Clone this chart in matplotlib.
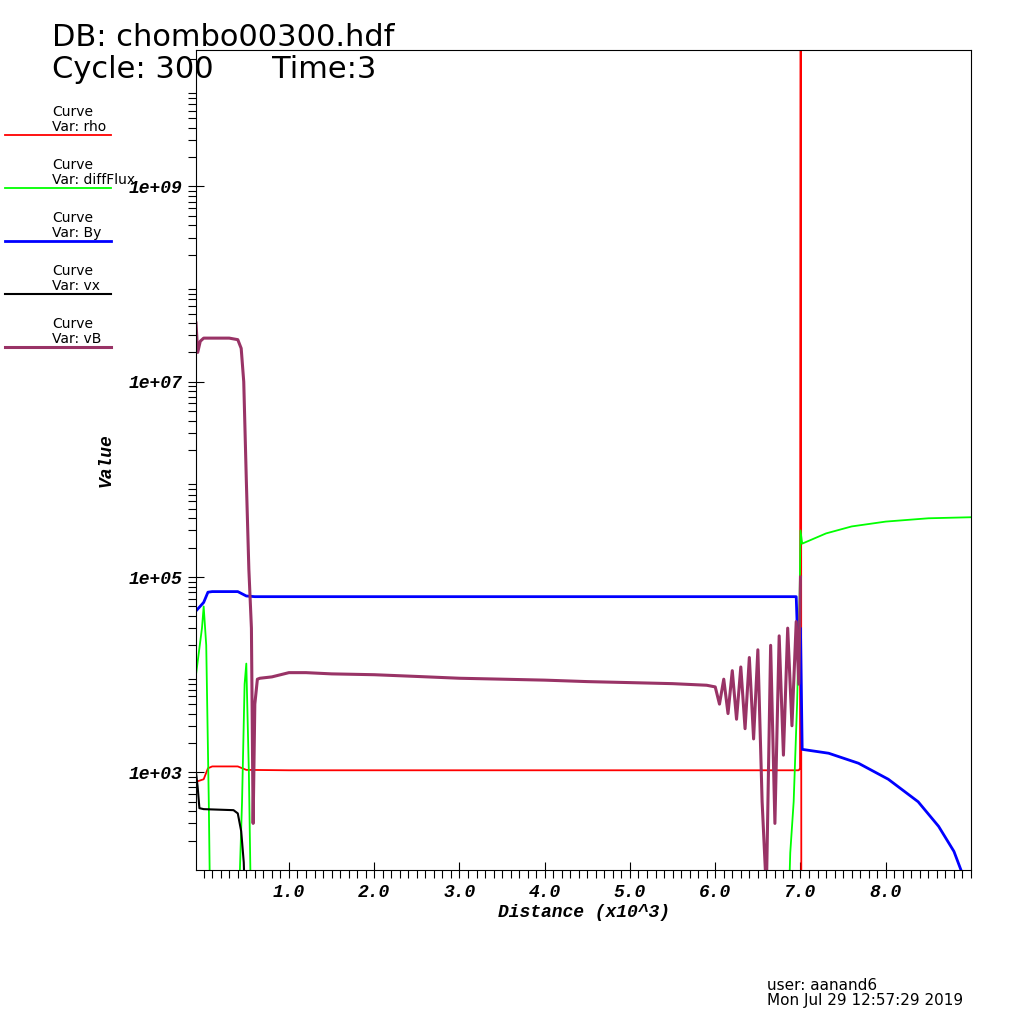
import matplotlib
matplotlib.use("Agg")
import matplotlib.pyplot as plt
from matplotlib.ticker import LogLocator, MultipleLocator, NullFormatter

rho_x = [-0.09, 0.0, 0.05, 0.1, 0.4, 0.5, 1.0, 3.0, 5.0, 6.98, 6.995, 7.0, 7.005, 7.01]
rho_y = [800, 850, 1100, 1150, 1150, 1060, 1050, 1050, 1050, 1050, 1100, 1e11, 1e11, 10]

df_x = [-0.09, -0.02, 0.0, 0.03, 0.06, 0.08, 0.40, 0.45, 0.48, 0.50, 0.53, 0.56, 6.85, 6.88, 6.92, 6.96, 6.99, 7.0, 7.02, 7.3, 7.6, 8.0, 8.5, 9.0]
df_y = [1e4, 3e4, 5e4, 2e4, 500, 20, 20, 500, 8000, 13000, 1000, 20, 20, 150, 500, 5000, 6e4, 3e5, 2.2e5, 2.8e5, 3.3e5, 3.7e5, 4.0e5, 4.1e5]

by_x = [-0.09, 0.0, 0.05, 0.1, 0.4, 0.5, 0.6, 3.0, 6.95, 6.98, 7.0, 7.02, 7.33, 7.68, 8.03, 8.38, 8.62, 8.80, 8.89]
by_y = [4.5e4, 5.5e4, 7e4, 7.1e4, 7.1e4, 6.4e4, 6.3e4, 6.3e4, 6.3e4, 1e4, 3e4, 1720, 1570, 1240, 850, 500, 280, 155, 96]

vx_x = [-0.09, -0.07, -0.05, 0.0, 0.35, 0.40, 0.44, 0.47, 0.50]
vx_y = [1000, 700, 430, 420, 410, 380, 250, 120, 20]

vb_x = [-0.09, -0.07, -0.04, 0.0, 0.1, 0.3, 0.40, 0.44, 0.47, 0.50, 0.53, 0.56, 0.58, 0.60, 0.63, 0.66, 0.8, 1.0, 1.2, 1.5, 2.0, 2.5, 3.0, 3.5, 4.0, 4.5, 5.0, 5.5, 5.9,
        6.0, 6.05, 6.1, 6.15, 6.2, 6.25, 6.3, 6.35, 6.4, 6.45, 6.5, 6.55, 6.6, 6.65, 6.7, 6.75, 6.8, 6.85, 6.9, 6.95, 6.98, 7.0]
vb_y = [4e7, 2e7, 2.6e7, 2.8e7, 2.8e7, 2.8e7, 2.7e7, 2.2e7, 1e7, 1e6, 1.2e5, 3e4, 300, 5000, 9000, 9200, 9500, 1.05e4, 1.05e4, 1.02e4, 1.0e4, 9600, 9200, 9000, 8800, 8500, 8300, 8100, 7800,
        7500, 5000, 9000, 4000, 11000, 3500, 12000, 2800, 15000, 2200, 18000, 500, 60, 20000, 300, 25000, 1500, 30000, 3000, 35000, 8000, 1e5]

series = [("rho", rho_x, rho_y, "#ff0000", 1.3),
          ("diffFlux", df_x, df_y, "#00ff00", 1.3),
          ("By", by_x, by_y, "#0000ff", 2.0),
          ("vx", vx_x, vx_y, "#000000", 1.5),
          ("vB", vb_x, vb_y, "#993366", 2.2)]

fig = plt.figure(figsize=(10.24, 10.24), dpi=100)
ax = fig.add_axes([196/1024, 154/1024, 775/1024, 820/1024])
for name, x, y, c, lw in series:
    ax.plot(x, y, color=c, lw=lw)
ax.set_yscale("log")
ax.set_xlim(-0.09, 9.0)
ax.set_ylim(100, 2.5e10)
mono = dict(family=["Liberation Mono", "DejaVu Sans Mono"], weight="bold", style="italic", size=13)
ax.set_yticks([1e3, 1e5, 1e7, 1e9])
ax.set_yticklabels(["1e+03", "1e+05", "1e+07", "1e+09"], **mono)
ax.yaxis.set_minor_locator(LogLocator(base=10, subs=range(2, 10), numticks=20))
ax.yaxis.set_minor_formatter(NullFormatter())
ax.set_xticks([1, 2, 3, 4, 5, 6, 7, 8])
ax.set_xticklabels(["1.0", "2.0", "3.0", "4.0", "5.0", "6.0", "7.0", "8.0"], **mono)
ax.xaxis.set_minor_locator(MultipleLocator(0.1))
ax.tick_params(which="major", direction="inout", length=12, width=0.8, pad=4)
ax.tick_params(which="minor", direction="out", length=6, width=0.8)
ax.set_xlabel("Distance (x10^3)", labelpad=2, **mono)
ax.set_ylabel("Value", labelpad=10, **mono)
for s in ax.spines.values():
    s.set_linewidth(0.8)

fig.text(52/1024, 1 - 38/1024, "DB: chombo00300.hdf", fontsize=22, va="center")
fig.text(52/1024, 1 - 70/1024, "Cycle: 300      Time:3", fontsize=22, va="center")
for i, (name, x, y, c, lw) in enumerate(series):
    yt = 112 + i * 53
    fig.text(52/1024, 1 - yt/1024, "Curve", fontsize=10, va="center")
    fig.text(52/1024, 1 - (yt + 15)/1024, "Var: " + name, fontsize=10, va="center")
    fig.add_artist(plt.Line2D([5/1024, 111/1024], [1 - (yt + 23)/1024] * 2, color=c, lw=lw))
fig.text(767/1024, 1 - 985/1024, "user: aanand6", fontsize=11, va="center")
fig.text(767/1024, 1 - 1001/1024, "Mon Jul 29 12:57:29 2019", fontsize=11, va="center")
fig.savefig("out.png", dpi=100)
